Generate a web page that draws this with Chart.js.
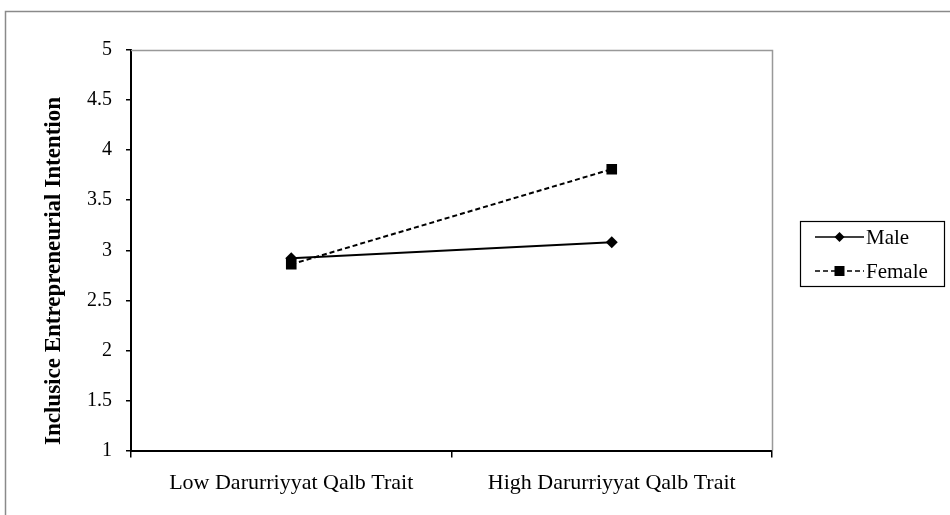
<!DOCTYPE html>
<html>
<head>
<meta charset="utf-8">
<script src="https://cdn.jsdelivr.net/npm/chart.js@4"></script>
<style>
  html, body { margin: 0; padding: 0; background: #fff; }
  canvas { display: block; }
</style>
</head>
<body>
<canvas id="grafico" width="950" height="515"></canvas>
<script>
// Dados do gráfico
const categorias = ['Low Darurriyyat Qalb Trait', 'High Darurriyyat Qalb Trait'];
const valoresMale = [2.92, 3.08];
const valoresFemale = [2.86, 3.81];
const tituloY = 'Inclusice Entrepreneurial Intention';

const fonte = '"Liberation Serif", "Times New Roman", serif';

// Moldura externa, título do eixo Y, borda cinza da área e legenda com caixa
const molduraPlugin = {
    id: 'moldura',
    beforeDraw(chart) {
        const ctx = chart.ctx;
        ctx.save();
        ctx.strokeStyle = '#8a8a8a';
        ctx.lineWidth = 1.5;
        ctx.beginPath();
        ctx.moveTo(5.5, 515);
        ctx.lineTo(5.5, 11.5);
        ctx.lineTo(950, 11.5);
        ctx.stroke();
        ctx.restore();
    },
    afterDraw(chart) {
        const ctx = chart.ctx;
        const a = chart.chartArea;
        ctx.save();
        ctx.strokeStyle = '#999';
        ctx.lineWidth = 1.5;
        ctx.beginPath();
        ctx.moveTo(a.left, a.top + 0.5);
        ctx.lineTo(a.right + 0.5, a.top + 0.5);
        ctx.lineTo(a.right + 0.5, a.bottom);
        ctx.stroke();

        // título do eixo Y
        ctx.save();
        ctx.translate(60, 271);
        ctx.rotate(-Math.PI / 2);
        ctx.font = 'bold 23px ' + fonte;
        ctx.fillStyle = '#000';
        ctx.textAlign = 'center';
        ctx.textBaseline = 'alphabetic';
        ctx.fillText(tituloY, 0, 0);
        ctx.restore();

        // legenda
        const bx = 800, by = 221, bw = 144, bh = 65;
        ctx.strokeStyle = '#000';
        ctx.lineWidth = 1.2;
        ctx.strokeRect(bx + 0.5, by + 0.5, bw, bh);
        ctx.font = '21px ' + fonte;
        ctx.fillStyle = '#000';
        ctx.textBaseline = 'middle';
        chart.data.datasets.forEach((ds, i) => {
            const y = by + 16 + i * 34;
            ctx.strokeStyle = '#000';
            ctx.lineWidth = 1.5;
            ctx.setLineDash(ds.borderDash || []);
            ctx.beginPath();
            ctx.moveTo(815, y);
            ctx.lineTo(864, y);
            ctx.stroke();
            ctx.setLineDash([]);
            ctx.beginPath();
            if (ds.pointStyle === 'rect') {
                ctx.rect(834.5, y - 5, 10, 10);
            } else {
                ctx.moveTo(839.5, y - 5);
                ctx.lineTo(844.5, y);
                ctx.lineTo(839.5, y + 5);
                ctx.lineTo(834.5, y);
                ctx.closePath();
            }
            ctx.fill();
            ctx.fillText(ds.label, 866, y + 1);
        });
        ctx.restore();
    }
};

const ctx = document.getElementById('grafico').getContext('2d');
new Chart(ctx, {
    type: 'line',
    data: {
        labels: categorias,
        datasets: [{
            label: 'Male',
            data: valoresMale,
            borderColor: '#000',
            backgroundColor: '#000',
            borderWidth: 2,
            pointStyle: 'rectRot',
            pointRadius: 6,
            pointBorderWidth: 0
        }, {
            label: 'Female',
            data: valoresFemale,
            borderColor: '#000',
            backgroundColor: '#000',
            borderWidth: 2,
            borderDash: [5, 3],
            pointStyle: 'rect',
            pointRadius: 7.5,
            pointBorderWidth: 0
        }]
    },
    options: {
        responsive: false,
        animation: false,
        layout: { padding: { top: 50, right: 178, left: 0, bottom: 7 } },
        plugins: {
            legend: { display: false },
            tooltip: { enabled: false }
        },
        scales: {
            x: {
                offset: true,
                grid: { offset: true, drawOnChartArea: false, tickLength: 7, color: '#000', lineWidth: 1.5 },
                border: { color: '#000', width: 2 },
                ticks: { color: '#000', font: { family: fonte, size: 22 }, padding: 12, maxRotation: 0 }
            },
            y: {
                min: 1,
                max: 5,
                afterFit: scale => { scale.width = 131; },
                ticks: {
                    stepSize: 0.5,
                    color: '#000',
                    font: { family: fonte, size: 20 },
                    padding: 14,
                    callback: v => String(v)
                },
                grid: { drawOnChartArea: false, tickLength: 5, color: '#000', lineWidth: 1.5 },
                border: { color: '#000', width: 2 }
            }
        }
    },
    plugins: [molduraPlugin]
});
</script>
</body>
</html>
